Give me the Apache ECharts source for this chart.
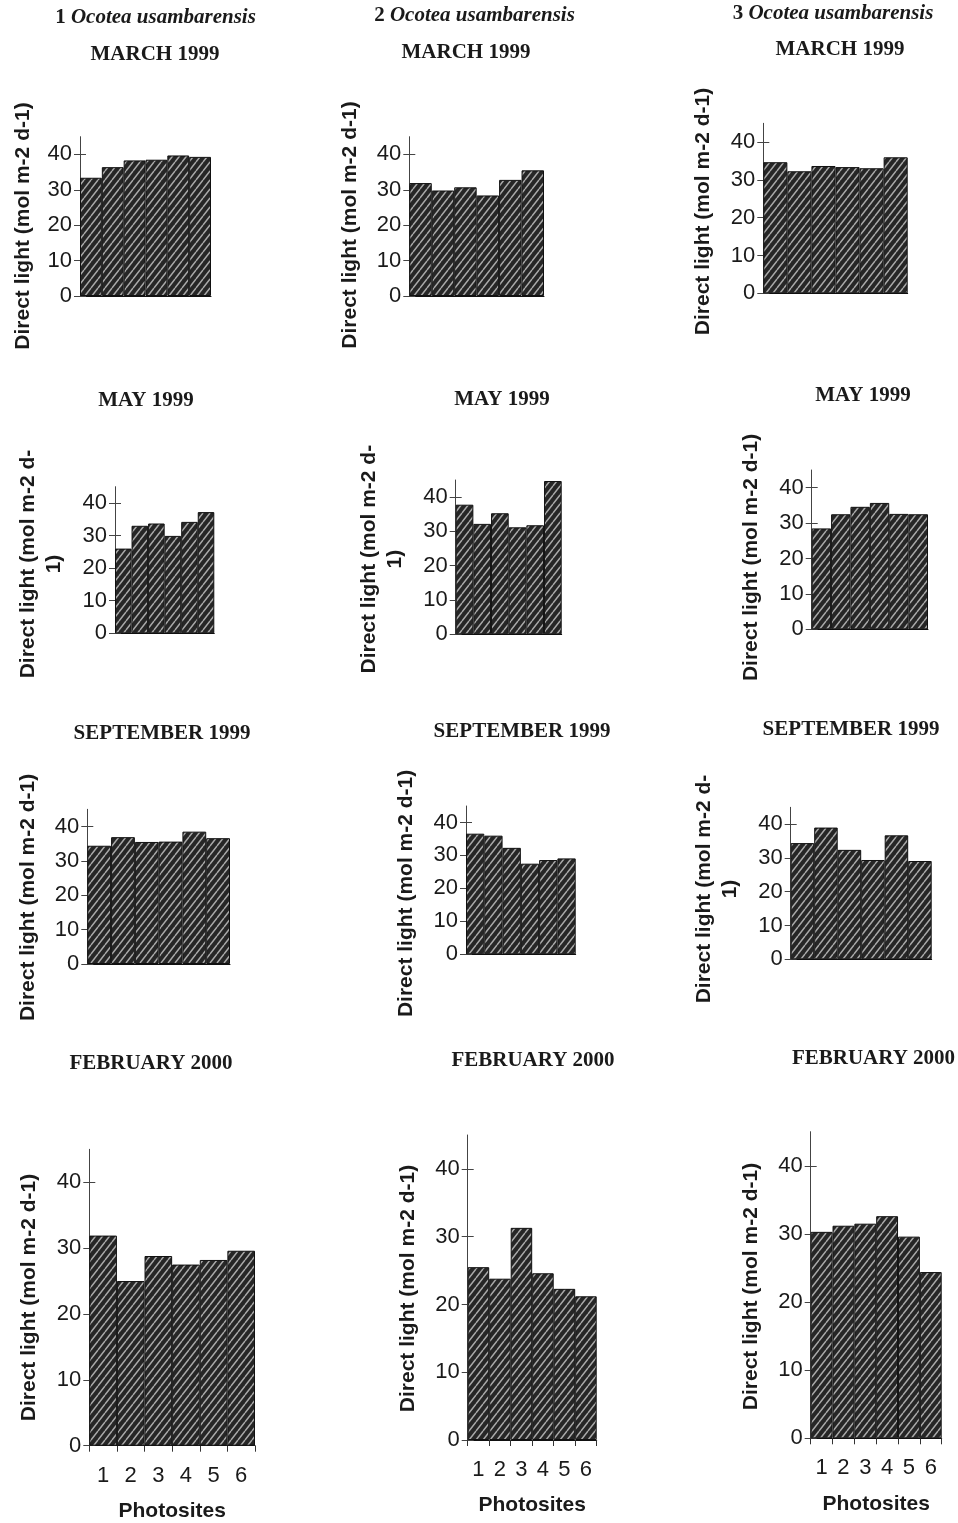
<!DOCTYPE html>
<html><head><meta charset="utf-8">
<script src="https://cdn.jsdelivr.net/npm/echarts@6/dist/echarts.min.js"></script>
<style>html,body{margin:0;padding:0;background:#fff}#c{width:958px;height:1523px}</style>
</head><body><div id="c"></div><script>
// ---------- DATA ----------
const photosites = ['1', '2', '3', '4', '5', '6'];
const yTickValues = [0, 10, 20, 30, 40];
const treeNumbers = ['1', '2', '3'];
const speciesName = 'Ocotea usambarensis';
const monthTitles = ['MARCH 1999', 'MAY 1999', 'SEPTEMBER 1999', 'FEBRUARY 2000'];
const yAxisName = 'Direct light (mol m-2 d-1)';
const xAxisName = 'Photosites';

const tree1Mar1999 = [33.4, 36.4, 38.3, 38.5, 39.7, 39.3];
const tree2Mar1999 = [31.9, 29.8, 30.7, 28.4, 32.8, 35.5];
const tree3Mar1999 = [34.7, 32.3, 33.7, 33.4, 33.1, 36.0];
const tree1May1999 = [26.0, 33.0, 33.7, 29.9, 34.2, 37.2];
const tree2May1999 = [37.8, 32.2, 35.3, 31.2, 31.8, 44.7];
const tree3May1999 = [28.5, 32.5, 34.6, 35.7, 32.6, 32.5];
const tree1Sep1999 = [34.4, 36.9, 35.5, 35.6, 38.5, 36.6];
const tree2Sep1999 = [36.6, 36.0, 32.3, 27.5, 28.6, 29.1];
const tree3Sep1999 = [34.4, 39.0, 32.4, 29.4, 36.7, 29.1];
const tree1Feb2000 = [31.9, 25.0, 28.8, 27.5, 28.2, 29.6];
const tree2Feb2000 = [25.5, 23.8, 31.3, 24.6, 22.3, 21.2];
const tree3Feb2000 = [30.3, 31.2, 31.5, 32.6, 29.6, 24.4];

const panelData = [
  [tree1Mar1999, tree2Mar1999, tree3Mar1999],
  [tree1May1999, tree2May1999, tree3May1999],
  [tree1Sep1999, tree2Sep1999, tree3Sep1999],
  [tree1Feb2000, tree2Feb2000, tree3Feb2000]
];

// ---------- LAYOUT (pixel geometry of each panel) ----------
// [axisX, top, right, bottom, nameGap, nameShift, twoLineName, monthX, monthY]
const layout = [
  [[80, 136.7, 211, 296, 44, 9.7, false, 155, 55], [409.3, 136.7, 544, 296, 46, 8.7, false, 466, 53], [763.3, 123.3, 907.7, 293.3, 47, 3.2, false, 840, 50]],
  [[115, 486.7, 214.3, 633.3, 48, 4, true, 146, 401], [455.7, 480, 561.7, 634.3, 47.5, 2, true, 502, 400], [811.7, 470, 928, 629.3, 47, 7.8, false, 863, 396]],
  [[87.3, 809.3, 230, 964, 46, 10.8, false, 162, 734], [466, 806, 575.7, 954.3, 46.5, 13.3, false, 522, 732], [790.7, 807.3, 931.7, 959.3, 47.5, 5.7, true, 851, 730]],
  [[89.3, 1149.3, 255, 1445.7, 47, 0, false, 151, 1064], [467.7, 1135, 596.7, 1440, 46, 1, false, 533, 1061], [810.7, 1131.7, 941.7, 1438.3, 46.5, 1.5, false, 873.5, 1059]]
];
const speciesPos = [[155.5, 18], [474.5, 16], [833, 13.5]];

// ---------- STYLE ----------
const SANS = "'Liberation Sans', Arial, Helvetica, sans-serif";
const SERIF = "'Liberation Serif', 'Times New Roman', Times, serif";
const INK = '#1a1a1a';

function makeHatch() {
  const w = 7, h = 9;
  const c = document.createElement('canvas');
  c.width = w; c.height = h;
  const ctx = c.getContext('2d');
  ctx.fillStyle = '#262626';
  ctx.fillRect(0, 0, w, h);
  ctx.strokeStyle = '#a9a9a9';
  ctx.lineWidth = 1.5;
  ctx.beginPath();
  for (let k = -1; k <= 1; k++) {
    ctx.moveTo(k * w, h);
    ctx.lineTo(k * w + w, 0);
  }
  ctx.stroke();
  return c;
}
const hatch = makeHatch();

const titles = [];
const grids = [], xAxes = [], yAxes = [], series = [];

treeNumbers.forEach((n, c) => {
  titles.push({
    text: '{n|' + n + '} {s|' + speciesName + '}',
    left: speciesPos[c][0], top: speciesPos[c][1],
    textAlign: 'center', textVerticalAlign: 'middle', padding: 0,
    textStyle: {
      fontFamily: SERIF, fontSize: 21, fontWeight: 'bold', color: INK,
      rich: {
        n: { fontFamily: SERIF, fontSize: 21, fontWeight: 'bold', fontStyle: 'normal', color: INK },
        s: { fontFamily: SERIF, fontSize: 21, fontWeight: 'bold', fontStyle: 'italic', color: INK }
      }
    }
  });
});

let idx = 0;
for (let r = 0; r < 4; r++) {
  for (let c = 0; c < 3; c++) {
    const L = layout[r][c];
    const [ax, top, right, bottom, gap, shift, twoLine, mx, my] = L;
    const isLast = r === 3;
    titles.push({
      text: monthTitles[r], left: mx, top: my,
      textAlign: 'center', textVerticalAlign: 'middle', padding: 0,
      textStyle: { fontFamily: SERIF, fontSize: 21, fontWeight: 'bold', color: INK }
    });
    grids.push({ left: ax, top: top, width: right - ax, height: bottom - top, containLabel: false });
    xAxes.push({
      type: 'category', gridIndex: idx, data: photosites, boundaryGap: true,
      axisLine: { show: true, lineStyle: { color: '#111', width: 1 } },
      axisTick: { show: isLast, length: 6, lineStyle: { color: '#333' } },
      axisLabel: { show: isLast, margin: 19, fontFamily: SANS, fontSize: 22, color: INK },
      splitLine: { show: false },
      name: isLast ? xAxisName : '',
      nameLocation: 'middle', nameGap: 55,
      nameTextStyle: { fontFamily: SANS, fontSize: 21, fontWeight: 'bold', color: INK }
    });
    const nm = twoLine ? 'Direct light (mol m-2 d-\n1)' : yAxisName;
    yAxes.push({
      type: 'value', gridIndex: idx, min: 0, max: 45, position: 'left',
      axisLine: { show: true, lineStyle: { color: '#444', width: 1 } },
      axisTick: { show: true, length: 6, customValues: yTickValues, lineStyle: { color: '#444' } },
      axisLabel: { customValues: yTickValues, margin: 8, fontFamily: SANS, fontSize: 22, color: INK },
      splitLine: { show: false },
      name: nm, nameLocation: 'middle', nameRotate: 90, nameGap: gap,
      nameTextStyle: {
        fontFamily: SANS, fontSize: 21, fontWeight: 'bold', color: INK, lineHeight: 26,
        padding: [0, Math.max(0, 2 * shift), 0, 0]
      }
    });
    yAxes.push({
      type: 'value', gridIndex: idx, min: 0, max: 45, position: 'left',
      axisLine: { show: false },
      axisTick: { show: true, inside: true, length: 6, customValues: yTickValues, lineStyle: { color: '#444' } },
      axisLabel: { show: false },
      splitLine: { show: false }
    });
    series.push({
      type: 'bar', xAxisIndex: idx, yAxisIndex: idx * 2,
      data: panelData[r][c],
      barCategoryGap: '0%',
      itemStyle: { color: { image: hatch, repeat: 'repeat' }, borderColor: '#111', borderWidth: 1 },
      emphasis: { disabled: true },
      animation: false
    });
    idx++;
  }
}

const chart = echarts.init(document.getElementById('c'), null, { renderer: 'canvas', width: 958, height: 1523 });
chart.setOption({
  backgroundColor: '#ffffff',
  animation: false,
  title: titles,
  grid: grids,
  xAxis: xAxes,
  yAxis: yAxes,
  series: series
});
</script></body></html>
